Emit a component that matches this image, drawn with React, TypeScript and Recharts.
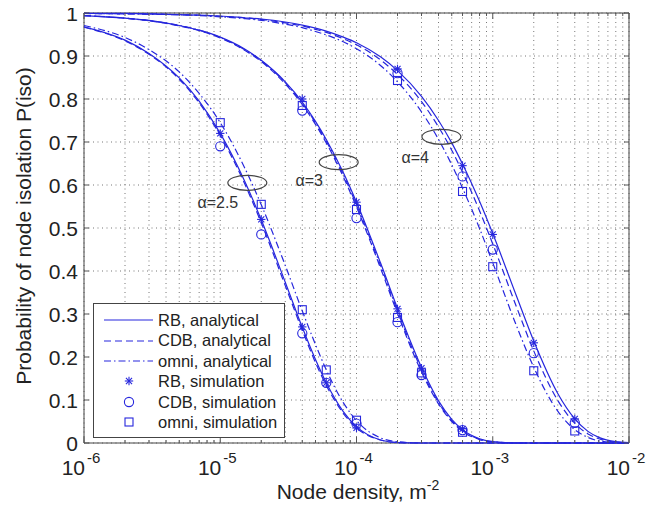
import {
  ComposedChart,
  Line,
  Scatter,
  XAxis,
  YAxis,
  CartesianGrid,
  ReferenceArea,
  ReferenceDot,
  Legend,
} from "recharts";

const FONT = '"Liberation Sans", Arial, Helvetica, sans-serif';
const BLUE = "#2626dd";
const INK = "#222";
const PLOT_W = 545;
const PLOT_H = 430;

// node densities where the analytical curves were read
const density = [
  1e-6, 2e-6, 3e-6, 5e-6, 7e-6, 1e-5, 1.5e-5, 2e-5, 3e-5, 4e-5, 5e-5, 6e-5, 8e-5, 1e-4, 1.5e-4,
  2e-4, 3e-4, 4e-4, 5e-4, 6e-4, 8e-4, 1e-3, 1.5e-3, 2e-3, 3e-3, 4e-3, 5e-3, 6e-3, 8e-3, 1e-2,
];

// alpha = 2.5
const a25RB = [0.968, 0.937, 0.906, 0.849, 0.795, 0.72, 0.611, 0.519, 0.374, 0.269, 0.194, 0.14, 0.073, 0.038, 0.007, 0.001, 0, 0, 0, 0, 0, 0, 0, 0, 0, 0, 0, 0, 0, 0];
const a25CDB = [0.967, 0.935, 0.904, 0.846, 0.791, 0.715, 0.605, 0.512, 0.366, 0.262, 0.187, 0.134, 0.069, 0.035, 0.007, 0.001, 0, 0, 0, 0, 0, 0, 0, 0, 0, 0, 0, 0, 0, 0];
const a25Omni = [0.971, 0.943, 0.915, 0.863, 0.813, 0.745, 0.642, 0.554, 0.413, 0.307, 0.229, 0.17, 0.094, 0.052, 0.012, 0.003, 0, 0, 0, 0, 0, 0, 0, 0, 0, 0, 0, 0, 0, 0];
// alpha = 3
const a3RB = [0.994, 0.988, 0.983, 0.971, 0.96, 0.944, 0.917, 0.89, 0.84, 0.793, 0.748, 0.706, 0.629, 0.56, 0.419, 0.313, 0.176, 0.098, 0.055, 0.031, 0.01, 0.003, 0, 0, 0, 0, 0, 0, 0, 0];
const a3CDB = [0.994, 0.988, 0.982, 0.97, 0.959, 0.942, 0.914, 0.887, 0.835, 0.787, 0.741, 0.698, 0.619, 0.549, 0.407, 0.301, 0.165, 0.091, 0.05, 0.027, 0.008, 0.002, 0, 0, 0, 0, 0, 0, 0, 0];
const a3Omni = [0.994, 0.988, 0.982, 0.971, 0.96, 0.943, 0.915, 0.889, 0.838, 0.79, 0.745, 0.702, 0.624, 0.554, 0.413, 0.307, 0.17, 0.094, 0.052, 0.029, 0.009, 0.003, 0, 0, 0, 0, 0, 0, 0, 0];
// alpha = 4
const a4RB = [0.999, 0.999, 0.998, 0.996, 0.995, 0.993, 0.989, 0.986, 0.979, 0.972, 0.965, 0.958, 0.944, 0.931, 0.898, 0.866, 0.806, 0.75, 0.698, 0.649, 0.562, 0.487, 0.34, 0.237, 0.115, 0.056, 0.027, 0.013, 0.003, 0.001];
const a4CDB = [0.999, 0.998, 0.998, 0.996, 0.995, 0.992, 0.989, 0.985, 0.977, 0.97, 0.962, 0.955, 0.94, 0.926, 0.891, 0.857, 0.794, 0.735, 0.681, 0.63, 0.54, 0.463, 0.315, 0.214, 0.099, 0.046, 0.021, 0.01, 0.002, 0.001];
const a4Omni = [0.999, 0.998, 0.997, 0.996, 0.994, 0.991, 0.987, 0.983, 0.974, 0.966, 0.957, 0.949, 0.933, 0.917, 0.878, 0.84, 0.77, 0.706, 0.647, 0.593, 0.499, 0.419, 0.271, 0.176, 0.074, 0.031, 0.013, 0.005, 0.001, 0];

// simulation points
const simX25 = [1e-5, 2e-5, 4e-5, 6e-5, 1e-4];
const simX3 = [4e-5, 1e-4, 2e-4, 3e-4, 6e-4];
const simX4 = [2e-4, 6e-4, 1e-3, 2e-3, 4e-3];
const sim25RB = [0.72, 0.52, 0.27, 0.14, 0.035];
const sim25CDB = [0.69, 0.485, 0.255, 0.14, 0.045];
const sim25Omni = [0.745, 0.555, 0.31, 0.17, 0.053];
const sim3RB = [0.8, 0.56, 0.312, 0.174, 0.033];
const sim3CDB = [0.773, 0.523, 0.281, 0.158, 0.03];
const sim3Omni = [0.785, 0.543, 0.292, 0.163, 0.025];
const sim4RB = [0.87, 0.645, 0.485, 0.233, 0.056];
const sim4CDB = [0.86, 0.62, 0.45, 0.209, 0.047];
const sim4Omni = [0.843, 0.585, 0.41, 0.168, 0.028];

// axes
const decadeTicks = [1e-6, 1e-5, 1e-4, 1e-3, 1e-2];
const decadeExps = ["-6", "-5", "-4", "-3", "-2"];
const minorSteps = [2, 3, 4, 5, 6, 7, 8, 9];
const xTicks = [
  ...decadeTicks,
  ...decadeTicks.slice(0, 4).flatMap((d) => minorSteps.map((m) => m * d)),
].sort((a, b) => a - b);
const yTicks = [0, 0.1, 0.2, 0.3, 0.4, 0.5, 0.6, 0.7, 0.8, 0.9, 1];
const yTickLabels = ["0", "0.1", "0.2", "0.3", "0.4", "0.5", "0.6", "0.7", "0.8", "0.9", "1"];

// annotations (data coordinates)
const groupEllipses = [
  { x: 1.58e-5, y: 0.605 },
  { x: 7.4e-5, y: 0.653 },
  { x: 4.2e-4, y: 0.712 },
];
const groupLabels = [
  { x: 9.6e-6, y: 0.56, text: "α=2.5" },
  { x: 4.5e-5, y: 0.612, text: "α=3" },
  { x: 2.7e-4, y: 0.665, text: "α=4" },
];

const legendItems = [
  { name: "RB, analytical", kind: "solid" },
  { name: "CDB, analytical", kind: "dashed" },
  { name: "omni, analytical", kind: "dashdot" },
  { name: "RB, simulation", kind: "star" },
  { name: "CDB, simulation", kind: "circle" },
  { name: "omni, simulation", kind: "square" },
];

const DASH = "7 4";
const DASHDOT = "7 3 1.5 3";

const toRows = (xs: number[], ys: number[]) => xs.map((x, i) => ({ x, y: ys[i] }));

const analytical = [
  { key: "a25RB", ys: a25RB, dash: undefined },
  { key: "a25CDB", ys: a25CDB, dash: DASH },
  { key: "a25Omni", ys: a25Omni, dash: DASHDOT },
  { key: "a3RB", ys: a3RB, dash: undefined },
  { key: "a3CDB", ys: a3CDB, dash: DASH },
  { key: "a3Omni", ys: a3Omni, dash: DASHDOT },
  { key: "a4RB", ys: a4RB, dash: undefined },
  { key: "a4CDB", ys: a4CDB, dash: DASH },
  { key: "a4Omni", ys: a4Omni, dash: DASHDOT },
];

const simulations = [
  { key: "s25RB", xs: simX25, ys: sim25RB, kind: "star" },
  { key: "s25CDB", xs: simX25, ys: sim25CDB, kind: "circle" },
  { key: "s25Omni", xs: simX25, ys: sim25Omni, kind: "square" },
  { key: "s3RB", xs: simX3, ys: sim3RB, kind: "star" },
  { key: "s3CDB", xs: simX3, ys: sim3CDB, kind: "circle" },
  { key: "s3Omni", xs: simX3, ys: sim3Omni, kind: "square" },
  { key: "s4RB", xs: simX4, ys: sim4RB, kind: "star" },
  { key: "s4CDB", xs: simX4, ys: sim4CDB, kind: "circle" },
  { key: "s4Omni", xs: simX4, ys: sim4Omni, kind: "square" },
];

function Marker({ kind, cx, cy }: { kind: string; cx: number; cy: number }) {
  if (kind === "star") {
    const s = 4.2;
    const d = s * 0.72;
    return (
      <g stroke={BLUE} strokeWidth={1.1}>
        <line x1={cx - s} y1={cy} x2={cx + s} y2={cy} />
        <line x1={cx} y1={cy - s} x2={cx} y2={cy + s} />
        <line x1={cx - d} y1={cy - d} x2={cx + d} y2={cy + d} />
        <line x1={cx - d} y1={cy + d} x2={cx + d} y2={cy - d} />
      </g>
    );
  }
  if (kind === "circle") {
    return <circle cx={cx} cy={cy} r={4.6} fill="none" stroke={BLUE} strokeWidth={1.1} />;
  }
  return <rect x={cx - 4} y={cy - 4} width={8} height={8} fill="none" stroke={BLUE} strokeWidth={1.1} />;
}

function XTick(props: any) {
  const { x, y, payload } = props;
  const v = payload.value;
  const idx = decadeTicks.findIndex((t) => Math.abs(Math.log10(t) - Math.log10(v)) < 1e-6);
  const len = idx >= 0 ? 6 : 3;
  return (
    <g>
      <line x1={x} y1={y} x2={x} y2={y - len} stroke="#555" />
      <line x1={x} y1={y - PLOT_H} x2={x} y2={y - PLOT_H + len} stroke="#555" />
      {idx >= 0 && (
        <g fontFamily={FONT} fill={INK}>
          <text x={x + 1} y={y + 32} textAnchor="end" fontSize={21}>
            10
          </text>
          <text x={x + 3} y={y + 20} textAnchor="start" fontSize={15}>
            {decadeExps[idx]}
          </text>
        </g>
      )}
    </g>
  );
}

function YTick(props: any) {
  const { x, y, payload } = props;
  const i = yTicks.findIndex((t) => Math.abs(t - payload.value) < 1e-9);
  return (
    <g>
      <line x1={x} y1={y} x2={x + 5} y2={y} stroke="#555" />
      <line x1={x + PLOT_W} y1={y} x2={x + PLOT_W - 5} y2={y} stroke="#555" />
      <text x={x - 6} y={y} dy="0.36em" textAnchor="end" fontFamily={FONT} fontSize={21} fill={INK}>
        {i >= 0 ? yTickLabels[i] : ""}
      </text>
    </g>
  );
}

function LegendBox() {
  return (
    <div
      style={{
        border: "1px solid #444",
        background: "#fff",
        width: 190,
        padding: "6px 0 5px 0",
        fontFamily: FONT,
        fontSize: 16.5,
        color: INK,
        lineHeight: "20.4px",
      }}
    >
      {legendItems.map((item) => (
        <div key={item.name} style={{ display: "flex", alignItems: "center", height: 20.4 }}>
          <svg width={64} height={20} style={{ flex: "none" }}>
            {item.kind === "solid" && <line x1={10} y1={10} x2={59} y2={10} stroke={BLUE} strokeWidth={1.2} />}
            {item.kind === "dashed" && (
              <line x1={10} y1={10} x2={59} y2={10} stroke={BLUE} strokeWidth={1.2} strokeDasharray={DASH} />
            )}
            {item.kind === "dashdot" && (
              <line x1={10} y1={10} x2={59} y2={10} stroke={BLUE} strokeWidth={1.2} strokeDasharray={DASHDOT} />
            )}
            {(item.kind === "star" || item.kind === "circle" || item.kind === "square") && (
              <Marker kind={item.kind} cx={35} cy={10} />
            )}
          </svg>
          <span style={{ whiteSpace: "nowrap" }}>{item.name}</span>
        </div>
      ))}
    </div>
  );
}

export default function App() {
  return (
    <div style={{ margin: -8, width: 661, height: 510, background: "#fff" }}>
      <ComposedChart
        width={661}
        height={510}
        margin={{ top: 13, right: 32, bottom: 0, left: 0 }}
        style={{ fontFamily: FONT }}
      >
        <CartesianGrid stroke="#777" strokeDasharray="1 3.5" strokeWidth={1} />
        <XAxis
          dataKey="x"
          type="number"
          scale="log"
          domain={[1e-6, 1e-2]}
          allowDataOverflow
          ticks={xTicks}
          interval={0}
          height={67}
          axisLine={false}
          tickLine={false}
          tickSize={0}
          tickMargin={0}
          tick={XTick}
          label={{
            content: () => (
              <text x={358} y={499} textAnchor="middle" fontFamily={FONT} fontSize={21} fill={INK}>
                Node density, m
                <tspan dy={-9} fontSize={14}>
                  -2
                </tspan>
              </text>
            ),
          }}
        />
        <YAxis
          type="number"
          domain={[0, 1]}
          ticks={yTicks}
          interval={0}
          width={84}
          axisLine={false}
          tickLine={false}
          tickSize={0}
          tickMargin={0}
          tick={YTick}
          label={{
            content: () => (
              <text
                x={31}
                y={226}
                transform="rotate(-90 31 226)"
                textAnchor="middle"
                fontFamily={FONT}
                fontSize={21}
                fill={INK}
              >
                Probability of node isolation P(iso)
              </text>
            ),
          }}
        />
        {analytical.map((s) => (
          <Line
            key={s.key}
            data={toRows(density, s.ys)}
            dataKey="y"
            type="monotone"
            stroke={BLUE}
            strokeWidth={1.2}
            strokeDasharray={s.dash}
            dot={false}
            activeDot={false}
            isAnimationActive={false}
            legendType="none"
          />
        ))}
        {simulations.map((s) => (
          <Scatter
            key={s.key}
            data={toRows(s.xs, s.ys)}
            dataKey="y"
            isAnimationActive={false}
            legendType="none"
            shape={(p: any) => <Marker kind={s.kind} cx={p.cx} cy={p.cy} />}
          />
        ))}
        {groupEllipses.map((e, i) => (
          <ReferenceDot
            key={"e" + i}
            x={e.x}
            y={e.y}
            r={0}
            ifOverflow="visible"
            shape={(p: any) => (
              <ellipse cx={p.cx} cy={p.cy} rx={19.5} ry={7.5} fill="none" stroke="#444" strokeWidth={1.2} />
            )}
          />
        ))}
        {groupLabels.map((l, i) => (
          <ReferenceDot
            key={"l" + i}
            x={l.x}
            y={l.y}
            r={0}
            ifOverflow="visible"
            shape={(p: any) => (
              <text x={p.cx} y={p.cy} dy="0.36em" textAnchor="middle" fontFamily={FONT} fontSize={16} fill="#333">
                {l.text}
              </text>
            )}
          />
        ))}
        <ReferenceArea x1={1e-6} x2={1e-2} y1={0} y2={1} fill="none" stroke="#444" strokeWidth={1} ifOverflow="visible" />
        <Legend
          layout="vertical"
          align="center"
          verticalAlign="middle"
          content={LegendBox}
          wrapperStyle={{ left: 93, top: 303, width: 192, height: "auto" }}
        />
      </ComposedChart>
    </div>
  );
}
